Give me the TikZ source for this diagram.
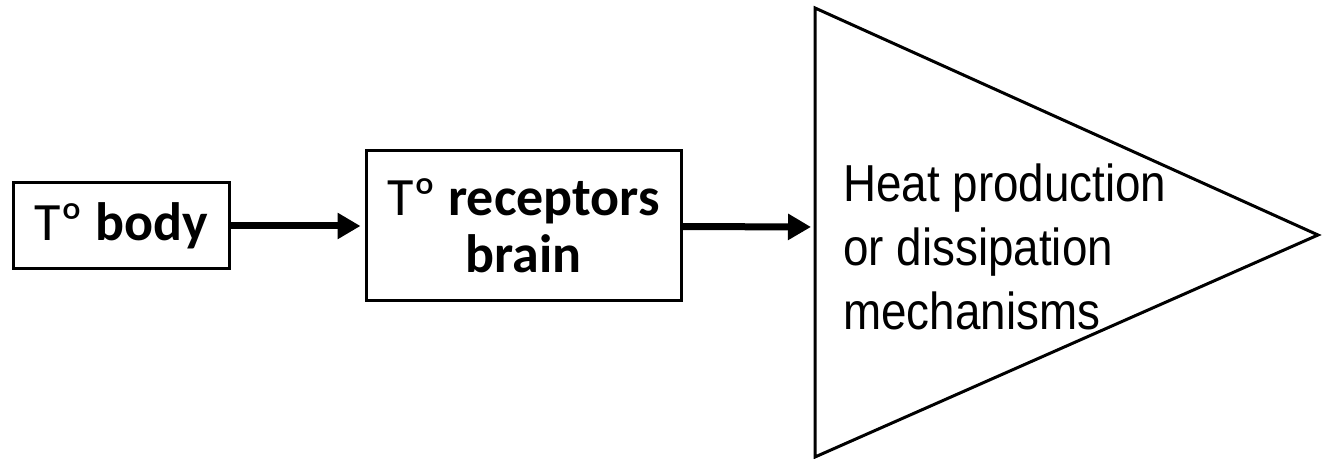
\documentclass[tikz,border=0pt]{standalone}
\usepackage{fontspec}
\newfontfamily\boxfont{Carlito}
\newfontfamily\narrowfont[FakeStretch=0.88]{Liberation Sans}
\usepackage{tikz}
\usetikzlibrary{positioning, arrows.meta}

\begin{document}
\begin{tikzpicture}[
    node distance=67pt,
    block/.style={rectangle, draw=black, line width=1.5pt, inner sep=0pt, align=center, font=\boxfont\fontsize{27pt}{28.5pt}\selectfont},
    arrow/.style={-{Triangle[length=11.5pt, width=12.5pt]}, line width=3.5pt, shorten >=2pt}
]
\useasboundingbox (0,0) rectangle (669pt,229.5pt);

% Nodes
\node (Body) [block, minimum width=108pt, minimum height=43pt] at (60.5pt,116.5pt) {Tº \textbf{body}};
\node (Receptors) [block, minimum width=157.5pt, minimum height=75pt, right=of Body] {Tº \textbf{receptors}\\\textbf{brain}};

% Triangle
\coordinate (TriTop) at (407.5pt,225.5pt);
\coordinate (TriBottom) at (407.5pt,1pt);
\coordinate (TriApex) at (659pt,112pt);
\coordinate (TriIn) at (407.5pt,116pt);
\draw [line width=1.5pt, line join=miter] (TriTop) -- (TriApex) -- (TriBottom) -- cycle;
\node (Mechanisms) [anchor=base west, inner sep=0pt, align=left, font=\narrowfont\fontsize{26pt}{32pt}\selectfont] at (421.5pt,64.5pt) {Heat production\\or dissipation\\mechanisms};

% Arrows
\draw [arrow] (Body) -- (Receptors);
\draw [arrow] (Receptors) -- (TriIn);

\end{tikzpicture}
\end{document}
